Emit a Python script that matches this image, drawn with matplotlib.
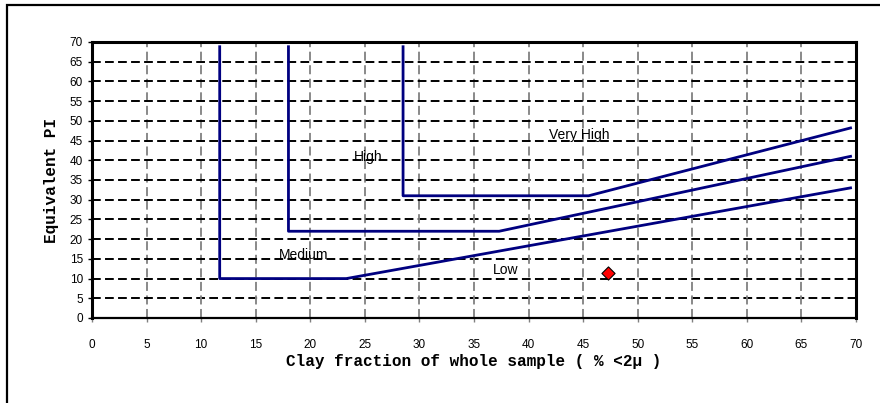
import numpy as np
import matplotlib.pyplot as plt
import matplotlib as mpl
from matplotlib.patches import Rectangle

mpl.style.use('default')

# boundary lines of the chart (x = clay fraction, y = equivalent PI)
low_x = [11.7, 11.7, 23.3, 69.5]
low_y = [68.8, 10.0, 10.0, 33.0]
med_x = [18.0, 18.0, 37.3, 69.5]
med_y = [68.8, 22.0, 22.0, 41.0]
high_x = [28.5, 28.5, 45.5, 69.5]
high_y = [68.8, 31.0, 31.0, 48.2]

sample_x = [47.3]
sample_y = [11.3]

zone_names = ['Low', 'Medium', 'High', 'Very High']
zone_x = [37.9, 19.4, 25.3, 44.6]
zone_y = [12.2, 16.0, 40.9, 46.4]

fig = plt.figure(figsize=(8.8, 4.03), dpi=100)
ax = fig.add_axes([92/880, 85/403, 764/880, 276/403])

# outer frame (only left/top edges visible in the original crop)
fig.patches.append(Rectangle((7/880, -0.05), 1.2, 1.05 - 5/403,
                             transform=fig.transFigure, fill=False,
                             ec='black', lw=1.6, zorder=0))

ax.set_xlim(0, 70)
ax.set_ylim(0, 70)
ax.set_xticks(np.arange(0, 71, 5))
ax.set_yticks(np.arange(0, 71, 5))

for v in np.arange(5, 70, 5):
    ax.axvline(v, color='#808080', ls=(0, (5, 2.5)), lw=1.3, zorder=1)
    ax.axhline(v, color='black', ls=(0, (4.5, 2.2)), lw=1.4, zorder=1)

ax.plot(low_x, low_y, color='#000080', lw=2, zorder=3)
ax.plot(med_x, med_y, color='#000080', lw=2, zorder=3)
ax.plot(high_x, high_y, color='#000080', lw=2, zorder=3)

ax.scatter(sample_x, sample_y, marker='D', s=45, c='red',
           edgecolors='black', linewidths=0.8, zorder=5)

for name, x, y in zip(zone_names, zone_x, zone_y):
    ax.text(x, y, name, ha='center', va='center', fontsize=10,
            family='Liberation Sans', zorder=4)

for side in ['left', 'top', 'right']:
    ax.spines[side].set_linewidth(2.2)
ax.spines['bottom'].set_linewidth(1.6)

ax.tick_params(axis='both', direction='out', labelsize=8.5, length=3, width=1)
ax.tick_params(axis='x', pad=12, color='#808080')
for lab in ax.get_xticklabels() + ax.get_yticklabels():
    lab.set_family('Liberation Sans')

ax.set_xlabel('Clay fraction of whole sample ( % <2\u03bc )', fontsize=11.5,
              family='Liberation Mono', fontweight='bold', labelpad=2)
ax.set_ylabel('Equivalent PI', fontsize=11.5, family='Liberation Mono',
              fontweight='bold', labelpad=8)

fig.savefig('out.png', dpi=100)
